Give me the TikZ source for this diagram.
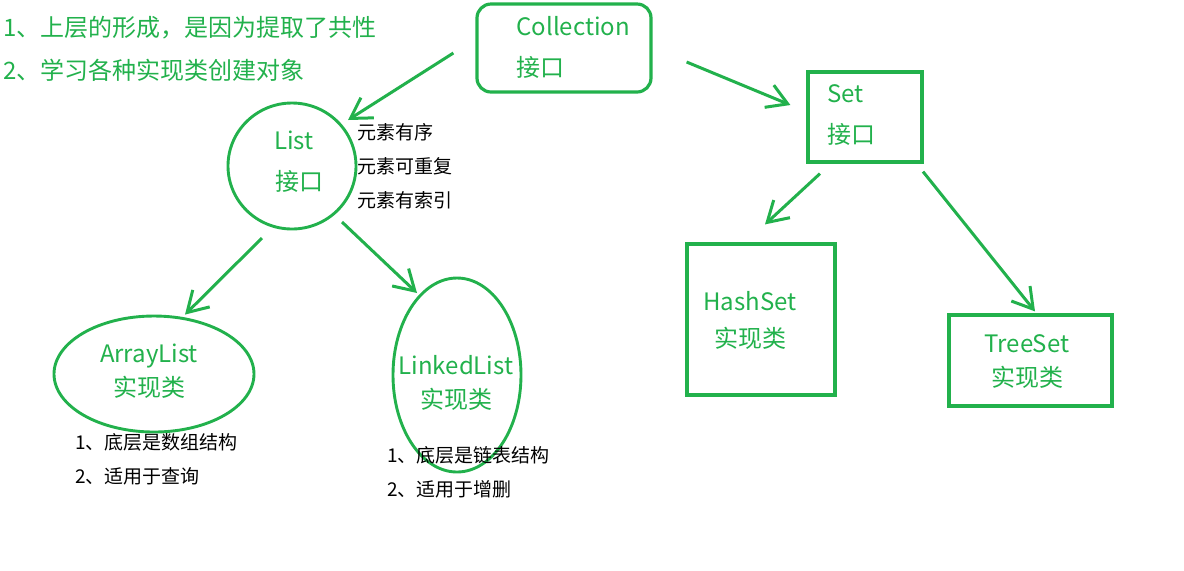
\documentclass[tikz,border=0pt]{standalone}
\usepackage{fontspec}
\setmainfont{Noto Sans CJK SC}
\usetikzlibrary{shapes.geometric, arrows.meta}

\definecolor{paintgreen}{RGB}{34,177,76}
\tikzset{
  box/.style = {draw = paintgreen, line width = 1.6pt, inner sep = 0pt},
  oval/.style = {ellipse, draw = paintgreen, line width = 1.45pt, inner sep = 0pt},
  lbl/.style = {text = paintgreen, inner sep = 0pt, font = \fontsize{12}{14.5}\selectfont},
  note/.style = {text = black, inner sep = 0pt, align = left, font = \fontsize{9.5}{17}\selectfont},
  arr/.style = {-{Straight Barb[length = 10pt, width = 12pt]}, draw = paintgreen, line width = 1.5pt}
}

\begin{document}
\begin{tikzpicture}[x = 0.5pt, y = -0.5pt]
  \useasboundingbox (0, 0) rectangle (1184, 570);
  \node[lbl, anchor = west, align = left] at (3, 48.5) (title) {1、上层的形成，是因为提取了共性\\[7pt]2、学习各种实现类创建对象};

  % shapes
  \node[box, rounded corners = 7pt, minimum width = 87pt, minimum height = 44pt] at (564, 48) (coll) {};
  \node[box, minimum width = 57pt, minimum height = 45pt] at (865, 117) (set) {};
  \node[oval, minimum width = 64pt, minimum height = 63pt] at (292, 166) (list) {};
  \node[oval, minimum width = 100pt, minimum height = 58pt] at (154, 374) (alist) {};
  \node[oval, minimum width = 64pt, minimum height = 97pt] at (457, 375) (llist) {};
  \node[box, minimum width = 74pt, minimum height = 75.5pt] at (761, 319.5) (hset) {};
  \node[box, minimum width = 81.5pt, minimum height = 45.5pt] at (1030.5, 360.5) (tset) {};

  % texts
  \node[lbl, anchor = west, align = left] at (516, 47.5) (collT) {Collection\\[6pt]接口};
  \node[lbl, anchor = west, align = left] at (827, 115.5) (setT) {Set\\[6pt]接口};
  \node[lbl, align = center] at (294, 161.5) (listT) {List\\[6pt]\hspace{5pt}接口};
  \node[lbl, align = center] at (149, 371) (alistT) {ArrayList\\[2.5pt]实现类};
  \node[lbl, align = center] at (456, 382.5) (llistT) {LinkedList\\[2.5pt]实现类};
  \node[lbl, align = center] at (750, 320.5) (hsetT) {HashSet\\[4pt]实现类};
  \node[lbl, align = center] at (1027, 361.5) (tsetT) {TreeSet\\[2.5pt]实现类};

  % notes
  \node[note, anchor = west] at (357, 166.5) (listN) {元素有序\\元素可重复\\元素有索引};
  \node[note, anchor = west] at (75, 459) (alistN) {1、底层是数组结构\\2、适用于查询};
  \node[note, anchor = west] at (387, 472.5) (llistN) {1、底层是链表结构\\2、适用于增删};

  % arrows
  \draw[arr] ([shift = {(-22, 5)}]coll.west) -- ([shift = {(56, -46)}]list.center);
  \draw[arr] ([shift = {(34, 14)}]coll.east) -- ([shift = {(-16, -12)}]set.west);
  \draw[arr] ([shift = {(-30, 72)}]list.center) -- ([shift = {(31, 0)}]alist.north);
  \draw[arr] ([shift = {(50, 56)}]list.center) -- ([shift = {(-40, -82)}]llist.center);
  \draw[arr] ([shift = {(-45, 10)}]set.south) -- ([shift = {(4, -18)}]hset.north);
  \draw[arr] ([shift = {(58, 8)}]set.south) -- ([shift = {(4.5, -2)}]tset.north);
\end{tikzpicture}
\end{document}
